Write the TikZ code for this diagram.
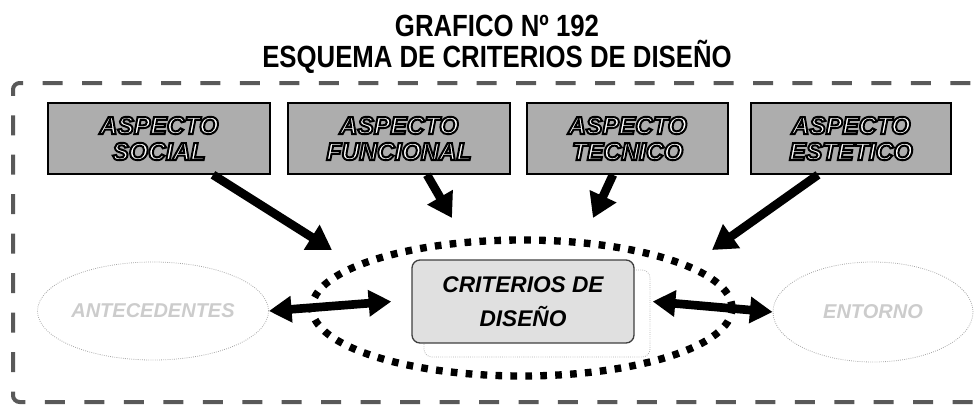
\documentclass[tikz,border=0pt]{standalone}
\usepackage{fontspec}
\newfontfamily\titulofont[FakeStretch=0.84]{Liberation Sans}
\newfontfamily\cajafont{Liberation Sans}
\usetikzlibrary{arrows.meta,shapes.geometric}
% white letters with a black outline
\newcommand{\contorno}[1]{\special{pdf:code q 2 Tr 1.5 w 0 G 1 g}#1\special{pdf:code Q}}

\tikzset{every picture/.style={line width=0.75pt},
  aspecto/.style={draw=black, line width=1.2pt, fill=black!32, minimum height=53.25pt, inner sep=0pt, align=center,
    font=\cajafont\bfseries\itshape\fontsize{18.5}{19.5}\selectfont},
  flecha/.style={line width=6.5pt, -{Triangle[length=18pt,width=21pt]}},
  dobleflecha/.style={line width=6.5pt, {Triangle[length=17pt,width=19pt]}-{Triangle[length=17pt,width=19pt]}},
  lateral/.style={ellipse, draw=black!35, densely dotted, line width=0.6pt, inner sep=0pt, text=black!20,
    font=\cajafont\bfseries\itshape\fontsize{15}{18}\selectfont}
}

\begin{document}
\begin{tikzpicture}[x=0.75pt,y=0.75pt,yscale=-1,xscale=1]
\useasboundingbox (0,0) rectangle (978,411);

% Title
\node [anchor=base, inner sep=0pt, font=\titulofont\bfseries\fontsize{23}{27}\selectfont] (titulo1) at (497,36) {GRAFICO Nº 192};
\node [anchor=base, inner sep=0pt, font=\titulofont\bfseries\fontsize{23}{27}\selectfont] (titulo2) at (497,67) {ESQUEMA DE CRITERIOS DE DISEÑO};

% Dashed frame
\draw [black!65, line width=3pt, dash pattern=on 15pt off 14.6pt, dash phase=14.85pt, rounded corners=5pt]
  (990,83) -- (13,83) -- (13,402) -- (990,402);

% Aspect boxes
\node [aspecto, minimum width=166.5pt] (social) at (159,138.5) {\contorno{ASPECTO}\\\contorno{SOCIAL}};
\node [aspecto, minimum width=166.5pt] (funcional) at (399,138.5) {\contorno{ASPECTO}\\\contorno{FUNCIONAL}};
\node [aspecto, minimum width=150.75pt] (tecnico) at (627.5,138.5) {\contorno{ASPECTO}\\\contorno{TECNICO}};
\node [aspecto, minimum width=150pt] (estetico) at (851,138.5) {\contorno{ASPECTO}\\\contorno{ESTETICO}};

% Dotted ring
\node [ellipse, draw=black, line width=5.5pt, dash pattern=on 5pt off 6.2pt, minimum width=315pt, minimum height=102pt, inner sep=0pt] (anillo) at (522,308) {};

% Central box and its faint shadow
\draw [black!30, densely dotted, line width=0.6pt, rounded corners=6pt] (424,270) rectangle (650,357);
\node [draw=black!75, line width=1pt, fill=black!12, rounded corners=6pt, minimum width=166.5pt, minimum height=62.25pt, align=center,
  font=\cajafont\bfseries\itshape\fontsize{17}{25.5}\selectfont] (criterios) at (523,301.5) {CRITERIOS DE\\DISEÑO};

% Side ellipses
\node [lateral, minimum width=169.5pt, minimum height=73.5pt] (izq) at (153,311) {ANTECEDENTES};
\node [lateral, minimum width=150pt, minimum height=75pt] (der) at (873,312) {ENTORNO};

% Arrow tips
\coordinate (t1) at (332,250);
\coordinate (t2) at (452,218);
\coordinate (t3) at (593,218);
\coordinate (t4) at (712,250);

% Arrows
\draw [flecha] ([xshift=40.5pt]social.south) -- (t1);
\draw [flecha] ([xshift=21pt]funcional.south) -- (t2);
\draw [flecha] ([xshift=-10.9pt]tecnico.south) -- (t3);
\draw [flecha] ([xshift=-24.75pt]estetico.south) -- (t4);
\draw [dobleflecha] (izq.east) -- ([xshift=-15pt]criterios.west);
\draw [dobleflecha] ([xshift=13.5pt]criterios.east) -- (der.west);

\end{tikzpicture}
\end{document}
